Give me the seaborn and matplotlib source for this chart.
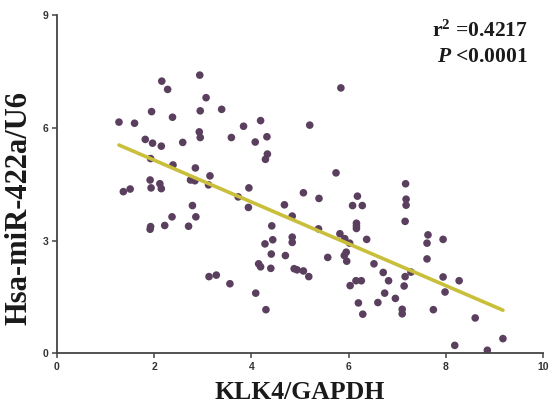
import matplotlib
matplotlib.use("Agg")
import matplotlib.pyplot as plt
import seaborn as sns
import pandas as pd

klk4 = [1.28, 1.60, 2.16, 2.28, 2.94, 3.07, 1.95, 2.38, 2.95, 3.39,
        1.82, 1.97, 2.15, 2.59, 2.93, 2.95, 3.59, 3.84, 4.19, 4.08,
        4.32, 4.33, 4.29, 1.93, 2.39, 2.85, 3.15, 2.75, 2.84, 3.12,
        1.92, 2.12, 1.94, 2.15, 1.37, 1.51, 3.95, 3.73, 3.94, 2.79,
        2.86, 2.37, 2.22, 2.71, 1.93, 1.92, 4.68, 4.84, 4.42, 4.44,
        4.28, 4.84, 4.84, 4.41, 4.70, 4.15, 4.19, 4.40, 4.88, 4.94,
        3.13, 3.28, 3.56, 4.09, 4.30, 5.84, 5.20, 5.74, 7.17, 5.07,
        5.39, 6.18, 7.18, 6.08, 6.28, 7.18, 7.16, 6.16, 6.16, 6.16,
        5.38, 5.82, 5.92, 6.02, 6.37, 7.63, 7.61, 7.94, 5.57, 5.95,
        5.91, 5.96, 7.61, 5.07, 5.18, 6.52, 6.71, 6.82, 7.28, 7.16,
        7.14, 6.03, 6.15, 6.26, 7.94, 8.27, 7.98, 6.74, 6.96, 6.60,
        6.20, 6.29, 7.10, 7.10, 7.74, 8.60, 9.17, 8.18, 8.85]
mir422a = [6.15, 6.12, 7.24, 7.02, 7.40, 6.80, 6.43, 6.28, 6.45, 6.49,
           5.69, 5.59, 5.51, 5.61, 5.89, 5.74, 5.74, 6.04, 6.19, 5.62,
           5.76, 5.30, 5.16, 5.18, 5.01, 4.93, 4.72, 4.61, 4.59, 4.48,
           4.61, 4.51, 4.40, 4.38, 4.30, 4.37, 4.40, 4.16, 3.88, 3.93,
           3.63, 3.63, 3.40, 3.38, 3.37, 3.30, 3.95, 3.65, 3.39, 3.02,
           2.91, 3.09, 2.95, 2.64, 2.60, 2.38, 2.30, 2.26, 2.25, 2.22,
           2.04, 2.08, 1.85, 1.60, 1.16, 7.06, 6.07, 4.80, 4.51, 4.27,
           4.12, 4.18, 4.10, 3.93, 3.93, 3.94, 3.51, 3.46, 3.39, 3.32,
           3.31, 3.18, 3.05, 2.93, 3.03, 3.15, 2.93, 3.03, 2.55, 2.69,
           2.60, 2.45, 2.51, 2.19, 2.04, 2.38, 2.15, 1.93, 2.16, 2.04,
           1.79, 1.80, 1.93, 1.93, 2.03, 1.93, 1.63, 1.60, 1.46, 1.35,
           1.34, 1.04, 1.17, 1.05, 1.16, 0.94, 0.39, 0.21, 0.08]

x_ticks = [0, 2, 4, 6, 8, 10]
y_ticks = [0, 3, 6, 9]
x_label = "KLK4/GAPDH"
y_label = "Hsa-miR-422a/U6"
r2_text = r"r$^2$ =0.4217"
p_text = r"$\mathit{P}$ <0.0001"

df = pd.DataFrame({"x": klk4, "y": mir422a})

sns.set_theme(style="ticks")
plt.rcParams["mathtext.fontset"] = "custom"
plt.rcParams["mathtext.rm"] = "Liberation Serif:bold"
plt.rcParams["mathtext.it"] = "Liberation Serif:italic:bold"
plt.rcParams["mathtext.bf"] = "Liberation Serif:bold"

fig = plt.figure(figsize=(5.53, 4.05), dpi=100)
ax = fig.add_axes([0.1025, 0.1277, 0.88, 0.8353])

sns.regplot(data=df, x="x", y="y", ax=ax, ci=None, truncate=True,
            scatter_kws=dict(s=30, color="#5b3f5e", edgecolor="none", alpha=1, zorder=2),
            line_kws=dict(color="#c9bf3a", linewidth=2.6, zorder=3))

ax.set_xlim(0, 10)
ax.set_ylim(0, 9)
ax.set_xticks(x_ticks)
ax.set_yticks(y_ticks)
sns.despine(ax=ax)
for sp in ["left", "bottom"]:
    ax.spines[sp].set_color("#444444")
    ax.spines[sp].set_linewidth(1.3)
ax.tick_params(axis="both", direction="out", length=3.5, width=1.1, color="#444444",
               labelsize=7.5, labelcolor="#333333", pad=2.5)
for lab in ax.get_xticklabels() + ax.get_yticklabels():
    lab.set_fontfamily("Liberation Sans")
    lab.set_fontweight("bold")

ax.set_xlabel(x_label, fontfamily="Liberation Serif", fontweight="bold",
              fontsize=18.5, color="#1a1a1a", labelpad=6.5)
ax.set_ylabel(y_label, fontfamily="Liberation Serif", fontweight="bold",
              fontsize=22, color="#1a1a1a")
ax.yaxis.set_label_coords(-0.047, 0.43)

ax.text(0.969, 0.953, r2_text, transform=ax.transAxes, ha="right", va="center",
        fontfamily="Liberation Serif", fontweight="bold", fontsize=15.5, color="#1a1a1a")
ax.text(0.969, 0.876, p_text, transform=ax.transAxes, ha="right", va="center",
        fontfamily="Liberation Serif", fontweight="bold", fontsize=15.5, color="#1a1a1a")

fig.savefig("out.png", dpi=100)
